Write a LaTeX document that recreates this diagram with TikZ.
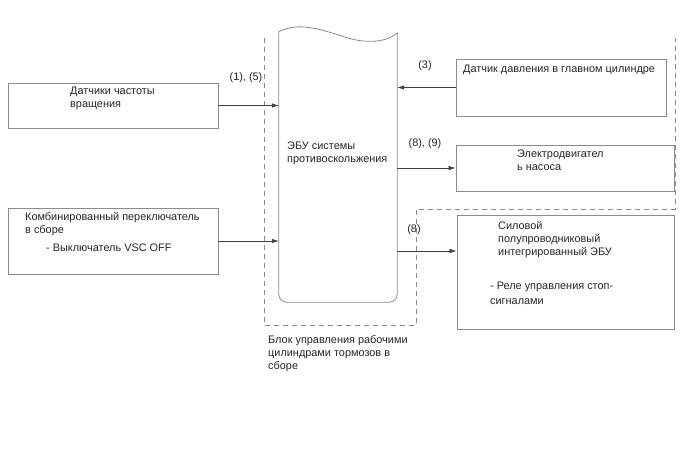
\documentclass[tikz,border=0pt]{standalone}
\usepackage{fontspec}
\setmainfont{Liberation Sans}
\usetikzlibrary{positioning, arrows.meta}

\begin{document}
\begin{tikzpicture}[
  x=1pt, y=-1pt,
  every node/.style = {font=\fontsize{10.9}{13}\selectfont, text=black!85, inner sep=0pt},
  box/.style = {draw=black!45, line width=0.8pt},
  txt/.style = {anchor=north west, align=left},
  lbl/.style = {anchor=center},
  arr/.style = {-{Latex[length=7pt, width=4.5pt]}, draw=black!75, line width=0.7pt}
]
\useasboundingbox (0,0) rectangle (688,463);

% Boxes
\node (spd) [box, minimum width=210pt, minimum height=45pt]  at (113,105.5) {};
\node (sw)  [box, minimum width=210pt, minimum height=66pt]  at (113,241)   {};
\node (mcs) [box, minimum width=210pt, minimum height=57pt]  at (561,87.5)  {};
\node (mtr) [box, minimum width=218pt, minimum height=46pt]  at (565,168)   {};
\node (sic) [box, minimum width=217pt, minimum height=114pt] at (565.5,272) {};
\node (ecu) [minimum width=118pt, minimum height=270pt]      at (338,167)   {};

% ECU outline with wavy top
\draw[box] (ecu.north west) -- ([yshift=8pt]ecu.south west)
  to[out=-90, in=180] ([xshift=8pt]ecu.south west)
  -- ([xshift=-8pt]ecu.south east)
  to[out=0, in=-90] ([yshift=8pt]ecu.south east)
  -- ([yshift=-1pt]ecu.north east)
  .. controls (390,40) and (372,45) .. (348,38)
  .. controls (322,30) and (300,21) .. (ecu.north west);

% Brake actuator assembly (dashed)
\draw[draw=black!45, line width=0.8pt, dash pattern=on 5pt off 4pt]
  (264,38) -- (264,325) -- (416,325) -- (416,209) -- (675,209) -- (675,38);

% Texts
\node (spdT) [txt] at (70,87)   {Датчики частоты\\вращения};
\node (swT)  [txt] at (25,212)  {Комбинированный переключатель\\в сборе};
\node (swS)  [txt] at (46,244)  {- Выключатель VSC OFF};
\node (ecuT) [txt] at (287,142) {ЭБУ системы\\противоскольжения};
\node (mcsT) [txt] at (463,65)  {Датчик давления в главном цилиндре};
\node (mtrT) [txt] at (517,150) {Электродвигател\\ь насоса};
\node (sicT) [txt] at (498,221) {Силовой\\полупроводниковый\\интегрированный ЭБУ};
\node (sicS) [txt, font=\fontsize{10.9}{14.5}\selectfont] at (490,282) {- Реле управления стоп-\\сигналами};
\node (blkT) [txt] at (268,335) {Блок управления рабочими\\цилиндрами тормозов в\\сборе};

% Signal labels
\node (l15) [lbl] at (246,78)  {(1), (5)};
\node (l3)  [lbl] at (425,66)  {(3)};
\node (l89) [lbl] at (425,144) {(8), (9)};
\node (l8)  [lbl] at (414,230) {(8)};

% Connectors
\draw[arr] (spd.east) -- (spd.east -| ecu.west);
\draw[arr] (sw.east)  -- (sw.east -| ecu.west);
\draw[arr] (mcs.west) -- (mcs.west -| ecu.east);
\draw[arr] (mtr.west -| ecu.east) -- (mtr.west);
\draw[arr] ([yshift=21pt]sic.west -| ecu.east) -- ([yshift=21pt]sic.west);

\end{tikzpicture}
\end{document}
